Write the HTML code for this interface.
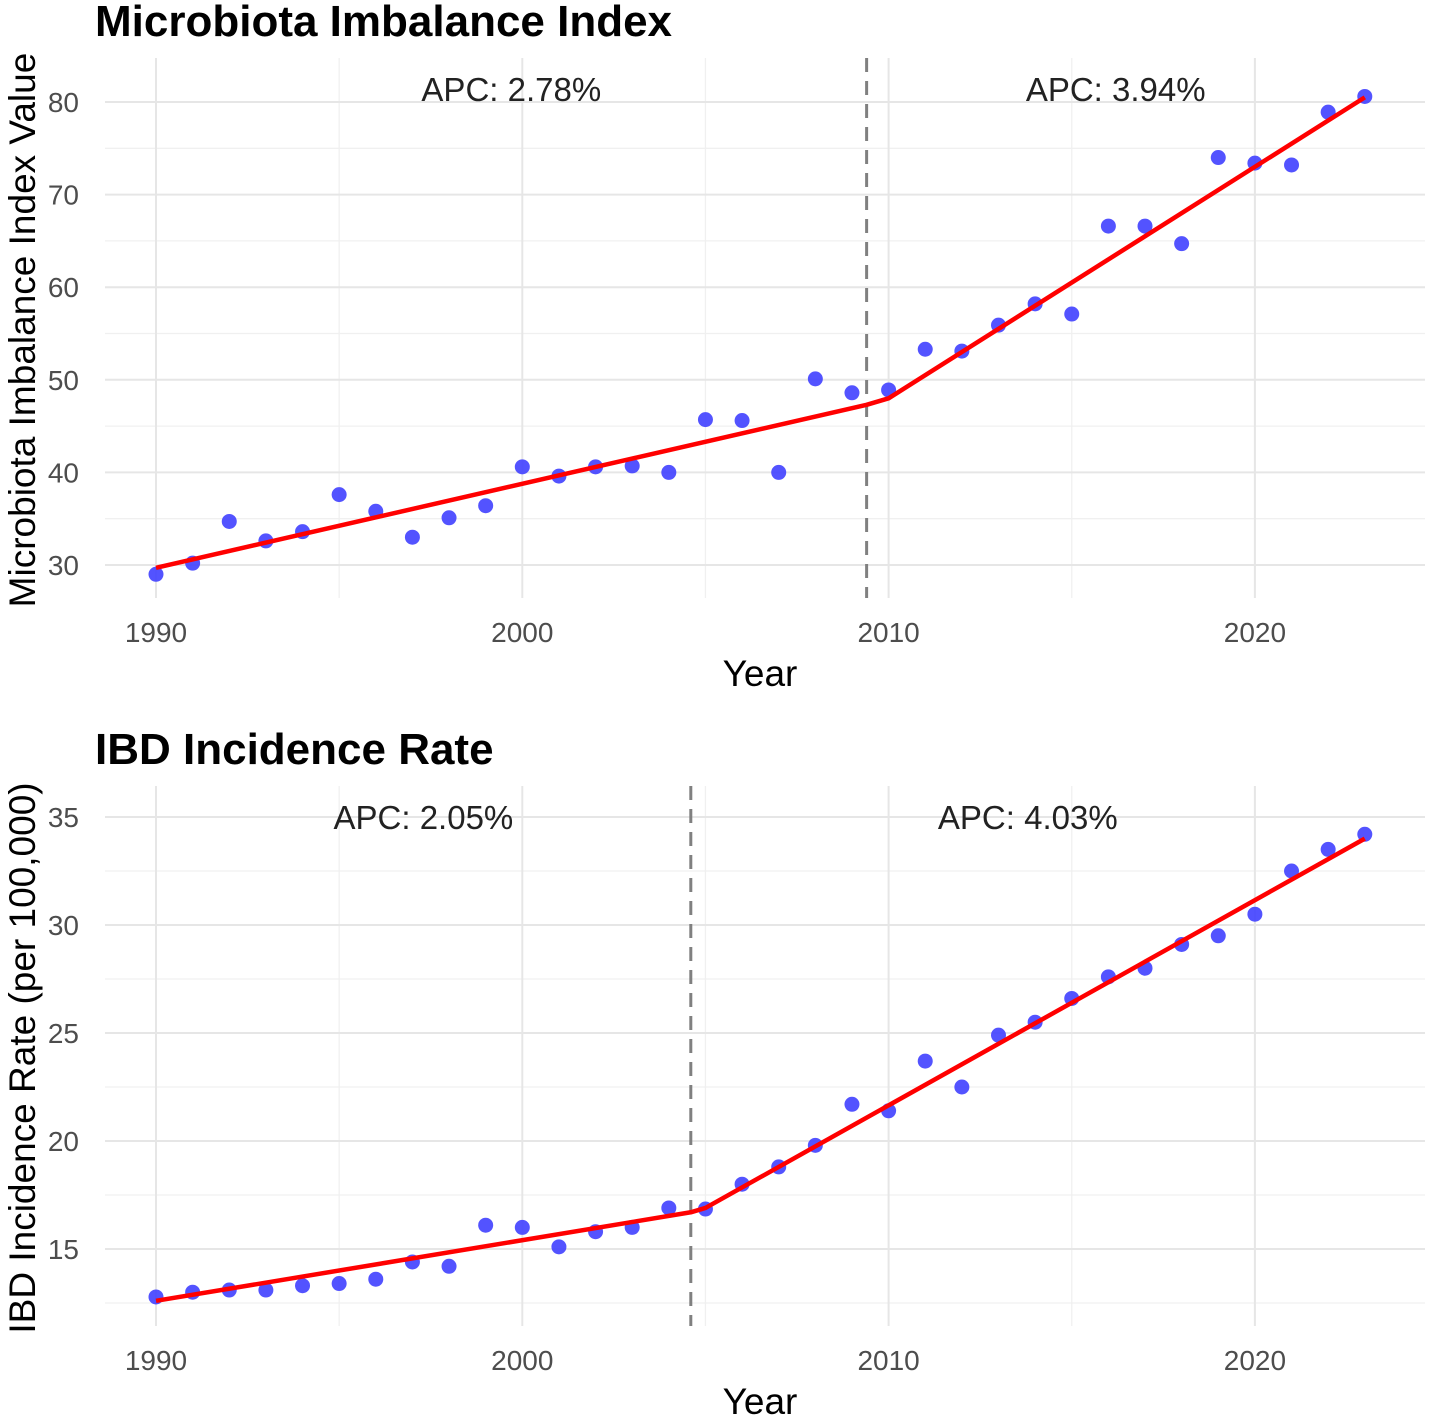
<!DOCTYPE html>
<html><head><meta charset="utf-8"><style>
html,body{margin:0;padding:0;background:#fff;}
svg{display:block;font-family:"Liberation Sans",Arial,sans-serif;}
</style></head><body>
<svg id="chart" width="1429" height="1419" viewBox="0 0 1429 1419"></svg>
<script>
const years = [1990,1991,1992,1993,1994,1995,1996,1997,1998,1999,2000,2001,2002,2003,2004,2005,2006,2007,2008,2009,2010,2011,2012,2013,2014,2015,2016,2017,2018,2019,2020,2021,2022,2023];
const mbiValues = [29.0,30.2,34.7,32.6,33.6,37.6,35.8,33.0,35.1,36.4,40.6,39.6,40.6,40.7,40.0,45.7,45.6,40.0,50.1,48.6,48.9,53.3,53.1,55.9,58.2,57.1,66.6,66.6,64.7,74.0,73.4,73.2,78.9,80.6];
const mbiFitYears = [1990,2009.4,2010,2023];
const mbiFitValues = [29.7,47.3,48.0,80.5];
const mbiBreak = 2009.4;
const mbiApc = ["APC: 2.78%","APC: 3.94%"];
const ibdValues = [12.78,13.0,13.1,13.1,13.3,13.4,13.6,14.4,14.2,16.1,16.0,15.1,15.8,16.0,16.9,16.85,18.0,18.8,19.8,21.7,21.4,23.7,22.5,24.9,25.5,26.6,27.6,28.0,29.1,29.5,30.5,32.5,33.5,34.2];
const ibdFitYears = [1990,2004.6,2005,2023];
const ibdFitValues = [12.6,16.7,16.9,34.0];
const ibdBreak = 2004.6;
const ibdApc = ["APC: 2.05%","APC: 4.03%"];
const xTicks = [1990,2000,2010,2020];
const xMinor = [1995,2005,2015];
const mbiYTicks = [30,40,50,60,70,80];
const mbiYMinor = [35,45,55,65,75];
const ibdYTicks = [15,20,25,30,35];
const ibdYMinor = [12.5,17.5,22.5,27.5,32.5];

const svg = document.getElementById('chart');
const NS = 'http://www.w3.org/2000/svg';
function mk(tag, attrs, parent, text){
  const e = document.createElementNS(NS, tag);
  for (const k in attrs) e.setAttribute(k, attrs[k]);
  if (text !== undefined) e.textContent = text;
  parent.appendChild(e);
  return e;
}
const xs = y => 156 + (y - 1990) * 36.63;

function panel(cfg){
  const g = mk('g', {}, svg);
  
  
  const ys = v => cfg.y0px + (v - cfg.y0) * cfg.k;
  const L = 105, R = 1425;
  cfg.yMinor.forEach(v => mk('line', {x1:L,x2:R,y1:ys(v),y2:ys(v),stroke:'#f0f0f0','stroke-width':1.3}, g));
  xMinor.forEach(v => mk('line', {x1:xs(v),x2:xs(v),y1:cfg.top,y2:cfg.bot,stroke:'#f0f0f0','stroke-width':1.3}, g));
  cfg.yTicks.forEach(v => {
    mk('line', {x1:L,x2:R,y1:ys(v),y2:ys(v),stroke:'#e6e6e6','stroke-width':2}, g);
    const t = mk('text', {x:79,y:ys(v)+10,'text-anchor':'end','font-size':28,fill:'#4d4d4d'}, g, String(v));
    
    
  });
  xTicks.forEach(v => {
    mk('line', {x1:xs(v),x2:xs(v),y1:cfg.top,y2:cfg.bot,stroke:'#e6e6e6','stroke-width':2}, g);
    const t = mk('text', {x:xs(v),y:cfg.bot+44,'text-anchor':'middle','font-size':28,fill:'#4d4d4d'}, g, String(v));
    
    
  });
  const bx = xs(cfg.brk);
  const bl = mk('line', {x1:bx,x2:bx,y1:cfg.top,y2:cfg.bot,stroke:'#808080','stroke-width':3,'stroke-dasharray':'14,9'}, g);
  
  
  years.forEach((yr, i) => {
    const c = mk('circle', {cx:xs(yr),cy:ys(cfg.vals[i]),r:7.5,fill:'#4040ff','fill-opacity':0.9}, g);
    
    
  });
  const pts = cfg.fitX.map((x, i) => xs(x) + ',' + ys(cfg.fitV[i])).join(' ');
  const pl = mk('polyline', {points:pts,fill:'none',stroke:'#ff0000','stroke-width':4.5,'stroke-linejoin':'round'}, g);
  
  
  const a1 = mk('text', {x:xs((1990+cfg.brk)/2),y:cfg.top+43,'text-anchor':'middle','font-size':33,fill:'#222'}, g, cfg.apc[0]);
  
  
  const a2 = mk('text', {x:xs((cfg.brk+2023)/2),y:cfg.top+43,'text-anchor':'middle','font-size':33,fill:'#222'}, g, cfg.apc[1]);
  
  
  const ti = mk('text', {x:95,y:cfg.titleY,'font-size':44,'font-weight':'bold',fill:'#000'}, g, cfg.title);
  
  
  const xt = mk('text', {x:760,y:cfg.bot+88,'text-anchor':'middle','font-size':37,fill:'#000'}, g, 'Year');
  
  
  const cy = (cfg.top + cfg.bot) / 2 + 2;
  const yt = mk('text', {x:0,y:0,'text-anchor':'middle','font-size':37,fill:'#000',transform:'translate(35,'+cy+') rotate(-90)'}, g, cfg.ytitle);
  
  
}

panel({name:'microbiota-panel',vals:mbiValues,fitX:mbiFitYears,fitV:mbiFitValues,brk:mbiBreak,apc:mbiApc,
  yTicks:mbiYTicks,yMinor:mbiYMinor,y0:30,y0px:565,k:-9.26,top:58,bot:598,titleY:36,
  title:'Microbiota Imbalance Index',ytitle:'Microbiota Imbalance Index Value'});
panel({name:'ibd-panel',vals:ibdValues,fitX:ibdFitYears,fitV:ibdFitValues,brk:ibdBreak,apc:ibdApc,
  yTicks:ibdYTicks,yMinor:ibdYMinor,y0:15,y0px:1249,k:-21.6,top:786,bot:1326,titleY:764,
  title:'IBD Incidence Rate',ytitle:'IBD Incidence Rate (per 100,000)'});
</script>
</body></html>
